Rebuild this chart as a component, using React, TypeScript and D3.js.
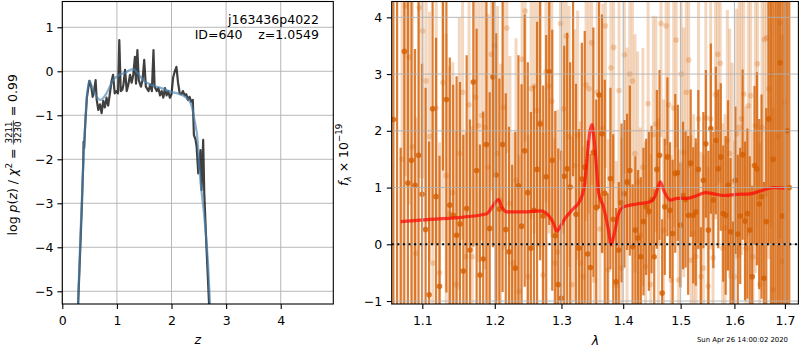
import React, { useEffect, useRef } from "react";
import * as d3 from "d3";

// ---- left panel: redshift probability
const zGrid = [0.28, 0.33, 0.36, 0.385, 0.39, 0.40, 0.42, 0.45, 0.495, 0.53, 0.557, 0.58, 0.61, 0.63, 0.66, 0.69, 0.72, 0.75, 0.78, 0.81, 0.84, 0.87, 0.90, 0.93, 0.96, 0.99, 1.02, 1.044, 1.07, 1.10, 1.12, 1.15, 1.18, 1.21, 1.24, 1.27, 1.30, 1.33, 1.35, 1.375, 1.40, 1.44, 1.47, 1.50, 1.53, 1.58, 1.61, 1.64, 1.67, 1.69, 1.73, 1.76, 1.79, 1.82, 1.85, 1.88, 1.91, 1.94, 1.97, 2.0, 2.03, 2.06, 2.09, 2.12, 2.15, 2.18, 2.21, 2.24, 2.27, 2.30, 2.33, 2.36, 2.39, 2.41, 2.44, 2.46, 2.49, 2.53, 2.55, 2.58, 2.60, 2.64, 2.69, 2.72];
const logPz = [-5.6, -4.0, -3.0, -2.0, -1.6, -1.75, -1.2, -0.6, -0.22, -0.35, -0.58, -0.46, -0.2, -0.65, -0.88, -0.75, -0.95, -0.67, -0.82, -0.6, -0.78, -0.52, -0.24, -0.08, -0.5, -0.45, -0.5, 0.71, -0.45, -0.42, -0.3, 0.03, -0.45, -0.3, -0.08, -0.26, -0.08, 0.33, -0.28, 0.48, -0.2, -0.35, -0.2, 0.26, -0.35, -0.45, -0.3, -0.45, 0.48, -0.35, -0.45, -0.38, -0.55, -0.45, -0.6, -0.38, -0.55, -0.45, -0.6, -0.52, -0.14, 0.0, 0.1, -0.26, -0.5, -0.52, -0.45, -0.55, -0.52, -0.65, -0.58, -0.69, -0.65, -1.45, -1.55, -1.71, -2.32, -1.79, -2.70, -1.56, -2.77, -3.99, -5.35, -6.0];
const zSmooth = [0.28, 0.33, 0.39, 0.45, 0.50, 0.54, 0.63, 0.70, 0.81, 0.93, 1.05, 1.17, 1.26, 1.30, 1.39, 1.48, 1.61, 1.73, 1.85, 1.97, 2.15, 2.27, 2.36, 2.42, 2.48, 2.51, 2.60, 2.67, 2.71, 2.73];
const logPzSmooth = [-5.6, -3.8, -1.94, -0.58, -0.21, -0.35, -0.58, -0.65, -0.5, -0.2, -0.08, -0.02, 0.04, 0.05, -0.06, -0.2, -0.3, -0.35, -0.4, -0.46, -0.52, -0.6, -0.75, -1.1, -1.6, -2.2, -3.3, -4.4, -5.4, -6.0];

const zTicks = [0, 1, 2, 3, 4];
const pzTicks = [-5, -4, -3, -2, -1, 0, 1];

const objName = "j163436p4022";
const objId = 640;
const zBest = "1.0549";
const chi2Num = "3211";
const chi2Den = "3230";
const chi2Red = "0.99";
const stamp = "Sun Apr 26 14:00:02 2020";

// ---- right panel: G141 spectrum (two orientations) + model
const waveStartA = 1.0625;
const waveStepA = 0.00465;
const fluxA = [
  2.2, 4.6, -1.3, 3.4, 1.08, 1.48, 1.04, 1.57, 0.88, 0.26,
  -0.89, 2.39, 0.84, -0.74, 4.5, 2.55, 0.69, 0.51, 0.16, 0.36,
  -0.47, 0.63, -0.10, 2.86, 1.30, -0.54, -0.26, 1.76, 0.28, 2.95,
  1.22, 0.62, 1.76, 0.26, -0.13, -1.3, -0.42, 1.03, 0.32, 1.65,
  0.91, -0.07, 0.60, 1.32, 2.12, 0.50, 1.19, 3.04, 1.48, 0.15,
  -0.71, -0.95, 1.20, 1.33, 1.01, 4.4, 0.53, -0.07, 1.15, 1.36,
  -0.17, -0.41, 1.62, 0.65, 2.63, 1.95, 0.9, -1.2, 1.16, 0.44,
  -0.66, -0.10, 0.73, 0.89, 1.10, 1.30, -0.04, 0.25, 0.11, -0.22,
  0.40, 0.66, 0.58, 0.79, -0.22, 1.32, 1.57, -0.86, 0.66, 1.54,
  0.60, 0.19, 1.25, 1.26, 0.34, 0.86, 0.79, 0.51, 1.43, 0.51,
  0.57, 1.32, -1.3, 1.13, 1.77, 0.25, 2.04, 0.78, 1.83, 1.33,
  1.54, 0.54, 0.51, 1.04, 0.22, -1.2, 1.13, 0.18, 0.50, 1.58,
  0.41, 0.54, 0.25, -0.57, 1.39, 1.33, 0.71, 0.84, -0.6, 0.4,
  2.21, 4.6, 1.5, 5.0, -1.5, 3.2, 0.5, 4.8, 2.0, 1.0,
];
const errA = [
  8, 9, 3, 8, 3.4, 3.0, 2.4, 3.4, 2.3, 2.5,
  2.7, 2.4, 2.8, 2.3, 3.2, 3.4, 2.6, 2.3, 2.8, 2.5,
  2.4, 2.7, 2.3, 2.9, 2.5, 2.3, 2.6, 2.8, 2.4, 3.0,
  2.5, 2.3, 2.6, 2.4, 2.2, 2.7, 2.4, 2.3, 2.5, 2.4,
  2.3, 2.4, 2.2, 2.6, 2.4, 2.3, 2.5, 2.7, 2.3, 2.2,
  2.4, 2.6, 2.3, 2.4, 2.2, 3.2, 2.3, 2.1, 2.4, 2.4,
  2.0, 2.0, 2.2, 1.9, 2.0, 2.1, 2.0, 2.1, 1.6, 1.5,
  1.3, 1.2, 1.4, 1.3, 1.2, 1.5, 1.1, 1.3, 1.2, 1.4,
  1.3, 1.2, 1.4, 1.3, 1.2, 1.4, 1.5, 1.3, 1.2, 1.4,
  1.2, 1.3, 1.4, 1.2, 1.1, 1.3, 1.2, 1.4, 1.3, 1.2,
  1.3, 1.4, 1.6, 1.2, 1.3, 1.4, 1.5, 1.2, 1.3, 1.4,
  1.3, 1.2, 1.4, 1.5, 1.3, 1.6, 1.3, 1.4, 1.2, 1.5,
  1.4, 1.5, 1.3, 1.6, 1.4, 1.7, 1.5, 1.8, 1.7, 2.0,
  2.2, 6, 7, 8, 9, 8, 9, 10, 9, 10,
];
const waveStartB = 1.0735;
const waveStepB = 0.0045;
const fluxB = [
  1.5,
  4.2, 3.30, 1.72, -0.16, 4.17, 3.76, 2.88, 1.90, -0.33, 2.40,
  -0.5, 2.85, 1.21, 0.54, 0.91, -0.71, 1.60, 2.68, -0.22, 2.46,
  -0.22, 2.59, 2.09, 2.27, 2.06, 1.36, 3.35, 3.5, 1.60, 0.78,
  2.41, 3.81, 0.72, -0.33, 1.13, -0.83, 3.26, 4.11, -0.57, 2.74,
  2.79, 2.36, 2.15, -0.54, 3.04, 2.79, 2.52, -0.33, -0.13, 3.89,
  2.39, 3.67, 1.90, -0.71, 1.39, 1.92, -0.33, -0.57, 2.81, 2.74,
  3.55, -0.63, 2.68, 0.27, 2.04, 3.85, -0.45, 3.11, 3.47, -0.73,
  2.71, -0.42, 3.34, 1.07, 3.0, 2.88, 1.60, 1.10, 0.16, 1.36,
  -0.39, 2.48, -0.71, 1.93, 2.12, 0.02, 3.89, 0.25, 3.85, 2.46,
  -0.63, 2.40, 3.60, -0.63, 3.0, 1.62, 2.68, 3.25, -0.28, 0.19,
  -0.22, 2.21, -0.57, -0.42, 2.23, -0.74, 2.21, -0.24, 2.64, 3.35,
  3.19, -0.07, 0.29, 1.83, 1.60, 1.10, -0.57, 1.95, 2.06, 2.21,
  2.65, -0.07, 2.44, 2.62, -0.22, 2.09, 3.18, -0.71, 2.06, 3.61,
  3.64, 2.74, 3.0, -0.8, 4.5, 1.9, 3.9, -0.3, 2.5,
];
const errB = [
  4, 3.0, 2.6, 2.8, 2.4, 3.0, 2.6, 2.5, 2.2, 2.7,
  2.4, 2.3, 2.8, 2.5, 2.6, 2.3, 2.7, 2.4, 2.6, 2.2,
  2.5, 2.3, 2.6, 2.4, 2.2, 2.5, 2.7, 2.4, 2.3, 2.6,
  2.4, 2.5, 2.2, 2.6, 2.3, 2.5, 2.4, 2.7, 2.3, 2.5,
  2.3, 2.6, 2.4, 2.2, 2.5, 2.3, 2.6, 2.4, 2.2, 2.5,
  2.4, 2.2, 2.5, 2.3, 2.6, 2.4, 2.2, 2.5, 2.3, 2.4,
  2.2, 2.5, 2.3, 2.1, 2.4, 2.2, 2.5, 2.3, 2.1, 2.4,
  2.2, 2.0, 2.3, 2.1, 2.4, 2.0, 2.2, 2.1, 2.3, 1.9,
  2.1, 2.2, 2.0, 2.3, 2.1, 1.9, 2.2, 2.0, 2.3, 2.1,
  2.0, 2.2, 2.1, 1.9, 2.3, 2.0, 2.2, 2.1, 1.9, 2.2,
  2.1, 2.0, 2.3, 2.2, 2.0, 2.2, 2.1, 2.3, 2.0, 2.2,
  2.3, 2.1, 2.2, 2.0, 2.3, 2.2, 2.1, 2.4, 2.2, 2.3,
  2.4, 2.2, 2.5, 2.3, 2.4, 2.2, 2.6, 2.4, 2.5, 2.7,
  2.6, 2.8, 3.0, 2.7, 3.2, 3.5, 3.0, 3.8, 4.0, 4.5,
];
const modelWave = [1.0718, 1.1102, 1.1556, 1.1886, 1.198, 1.2053, 1.2101, 1.2174, 1.2421, 1.2672, 1.2799, 1.2876, 1.2928, 1.298, 1.3059, 1.319, 1.3296, 1.336, 1.3403, 1.3446, 1.3484, 1.3521, 1.3566, 1.3591, 1.3673, 1.3755, 1.38, 1.3851, 1.3923, 1.4007, 1.4234, 1.4464, 1.4551, 1.4597, 1.4638, 1.4697, 1.4815, 1.4934, 1.5117, 1.5298, 1.5452, 1.5606, 1.5795, 1.6052, 1.631, 1.6573, 1.6774, 1.701];
const modelFlux = [0.40, 0.44, 0.48, 0.54, 0.69, 0.79, 0.66, 0.57, 0.57, 0.59, 0.51, 0.37, 0.23, 0.31, 0.46, 0.63, 0.78, 1.01, 1.48, 1.95, 2.11, 1.83, 1.25, 0.92, 0.66, 0.25, -0.01, 0.19, 0.54, 0.66, 0.71, 0.75, 0.86, 1.01, 1.10, 0.95, 0.78, 0.81, 0.81, 0.86, 0.91, 0.89, 0.86, 0.88, 0.89, 0.96, 1.0, 0.99];

const waveTicks = [1.1, 1.2, 1.3, 1.4, 1.5, 1.6, 1.7];
const fluxTicks = [-1, 0, 1, 2, 3, 4];

const FONT = "DejaVu Sans, sans-serif";
const G141 = "#d55e00";
const GRID = "#b0b0b0";

const App: React.FC = () => {
  const svgRef = useRef<SVGSVGElement>(null);

  useEffect(() => {
    if (!svgRef.current) return;
    const svg = d3.select(svgRef.current);
    svg.selectAll("*").remove();

    const fs = 12.5;
    const minus = (v: number) => String(v).replace("-", "\u2212");
    const defs = svg.append("defs");

    // ================= left panel =================
    const L = { left: 62.3, right: 333.3, top: 1.5, bottom: 304 };
    const xz = d3.scaleLinear().domain([0, 4.963]).range([L.left, L.right]);
    const yz = d3.scaleLinear().domain([-5.289, 1.586]).range([L.bottom, L.top]);

    defs.append("clipPath").attr("id", "clipL").append("rect")
      .attr("x", L.left).attr("y", L.top)
      .attr("width", L.right - L.left).attr("height", L.bottom - L.top);

    const gl = svg.append("g");
    // grid
    gl.append("g").selectAll("line").data(zTicks).join("line")
      .attr("x1", (d) => xz(d)).attr("x2", (d) => xz(d))
      .attr("y1", L.top).attr("y2", L.bottom)
      .attr("stroke", GRID).attr("stroke-width", 0.9);
    gl.append("g").selectAll("line").data(pzTicks).join("line")
      .attr("y1", (d) => yz(d)).attr("y2", (d) => yz(d))
      .attr("x1", L.left).attr("x2", L.right)
      .attr("stroke", GRID).attr("stroke-width", 0.9);

    const pzLine = d3.line<number>()
      .x((_, i) => xz(zGrid[i]))
      .y((d) => yz(d));
    const smoothLine = d3.line<number>()
      .x((_, i) => xz(zSmooth[i]))
      .y((d) => yz(d))
      .curve(d3.curveMonotoneX);

    const gLines = gl.append("g").attr("clip-path", "url(#clipL)");
    gLines.append("path").datum(logPz)
      .attr("fill", "none").attr("stroke", "#000").attr("stroke-opacity", 0.75)
      .attr("stroke-width", 2.2).attr("stroke-linejoin", "round")
      .attr("d", pzLine);
    gLines.append("path").datum(logPzSmooth)
      .attr("fill", "none").attr("stroke", "steelblue").attr("stroke-opacity", 0.65)
      .attr("stroke-width", 2.2)
      .attr("d", smoothLine);

    // axes
    const axL = gl.append("g").attr("transform", `translate(0,${L.bottom})`)
      .call(d3.axisBottom(xz).tickValues(zTicks).tickSize(4.9).tickSizeOuter(0).tickPadding(7)
        .tickFormat((d) => minus(+d)));
    const ayL = gl.append("g").attr("transform", `translate(${L.left},0)`)
      .call(d3.axisLeft(yz).tickValues(pzTicks).tickSize(4.9).tickSizeOuter(0).tickPadding(4)
        .tickFormat((d) => minus(+d)));
    [axL, ayL].forEach((a) => {
      a.select(".domain").remove();
      a.attr("font-family", FONT).attr("font-size", fs);
      a.selectAll("line").attr("stroke", "#000").attr("stroke-width", 1.1);
      a.selectAll("text").attr("fill", "#000");
    });
    gl.append("rect")
      .attr("x", L.left).attr("y", L.top)
      .attr("width", L.right - L.left).attr("height", L.bottom - L.top)
      .attr("fill", "none").attr("stroke", "#000").attr("stroke-width", 1.1);

    // annotation
    gl.append("text").attr("x", 319).attr("y", 24)
      .attr("text-anchor", "end").attr("font-family", FONT).attr("font-size", fs)
      .text(objName);
    gl.append("text").attr("x", 319).attr("y", 39)
      .attr("text-anchor", "end").attr("font-family", FONT).attr("font-size", fs)
      .style("white-space", "pre")
      .text(`ID=${objId}    z=${zBest}`);

    // x label
    gl.append("text").attr("x", (L.left + L.right) / 2).attr("y", 344)
      .attr("text-anchor", "middle").attr("font-family", FONT).attr("font-size", fs)
      .attr("font-style", "italic").text("z");

    // y label with fraction
    const yl = svg.append("g")
      .attr("transform", `translate(17,${(L.top + L.bottom) / 2 + 2}) rotate(-90)`)
      .attr("font-family", FONT).attr("font-size", fs).attr("fill", "#000");
    const pre = yl.append("text").style("white-space", "pre");
    pre.append("tspan").text("log ");
    pre.append("tspan").attr("font-style", "italic").text("p");
    pre.append("tspan").text("(");
    pre.append("tspan").attr("font-style", "italic").text("z");
    pre.append("tspan").text(") / ");
    pre.append("tspan").attr("font-style", "italic").text("\u03c7");
    pre.append("tspan").attr("font-size", fs * 0.7).attr("dy", -fs * 0.4).text("2");
    pre.append("tspan").attr("dy", fs * 0.4).text(" = ");
    const preW = (pre.node() as SVGTextElement).getComputedTextLength();
    const fracFs = fs * 0.7;
    const num = yl.append("text").attr("font-size", fracFs).attr("text-anchor", "middle").text(chi2Num);
    const den = yl.append("text").attr("font-size", fracFs).attr("text-anchor", "middle").text(chi2Den);
    const fracW = Math.max(
      (num.node() as SVGTextElement).getComputedTextLength(),
      (den.node() as SVGTextElement).getComputedTextLength()
    ) + 2;
    const post = yl.append("text").style("white-space", "pre").text(` = ${chi2Red}`);
    const postW = (post.node() as SVGTextElement).getComputedTextLength();
    const x0 = -(preW + fracW + postW) / 2;
    pre.attr("x", x0);
    num.attr("x", x0 + preW + fracW / 2).attr("y", -5.2);
    den.attr("x", x0 + preW + fracW / 2).attr("y", 4.2);
    yl.append("line")
      .attr("x1", x0 + preW).attr("x2", x0 + preW + fracW)
      .attr("y1", -3.6).attr("y2", -3.6)
      .attr("stroke", "#000").attr("stroke-width", 0.7);
    post.attr("x", x0 + preW + fracW);

    // ================= right panel =================
    const R = { left: 391.7, right: 799, top: 1.5, bottom: 304 };
    const xw = d3.scaleLog().domain([1.0603, 1.729]).range([R.left, R.right]);
    const yf = d3.scaleLinear().domain([-1.052, 4.279]).range([R.bottom, R.top]);

    defs.append("clipPath").attr("id", "clipR").append("rect")
      .attr("x", R.left).attr("y", R.top)
      .attr("width", R.right - R.left).attr("height", R.bottom - R.top);

    const gr = svg.append("g");
    const gData = gr.append("g").attr("clip-path", "url(#clipR)");

    const setB = fluxB.map((f, i) => ({ w: waveStartB + i * waveStepB, f, e: errB[i] }));
    const setA = fluxA.map((f, i) => ({ w: waveStartA + i * waveStepA, f, e: errA[i] }));

    const drawSet = (
      data: { w: number; f: number; e: number }[],
      opacity: number,
      width: number
    ) => {
      const g = gData.append("g");
      g.selectAll("line").data(data).join("line")
        .attr("x1", (d) => xw(d.w)).attr("x2", (d) => xw(d.w))
        .attr("y1", (d) => yf(d.f - d.e)).attr("y2", (d) => yf(d.f + d.e))
        .attr("stroke", G141).attr("stroke-opacity", opacity).attr("stroke-width", width);
      g.selectAll("circle").data(data).join("circle")
        .attr("cx", (d) => xw(d.w)).attr("cy", (d) => yf(d.f))
        .attr("r", 2.8)
        .attr("fill", G141).attr("fill-opacity", opacity);
    };
    drawSet(setB, 0.25, 3);
    drawSet(setA, 0.8, 2.2);

    // grid over the error bars
    gr.append("g").selectAll("line").data(waveTicks).join("line")
      .attr("x1", (d) => xw(d)).attr("x2", (d) => xw(d))
      .attr("y1", R.top).attr("y2", R.bottom)
      .attr("stroke", GRID).attr("stroke-width", 0.9);
    gr.append("g").selectAll("line").data(fluxTicks).join("line")
      .attr("y1", (d) => yf(d)).attr("y2", (d) => yf(d))
      .attr("x1", R.left).attr("x2", R.right)
      .attr("stroke", GRID).attr("stroke-width", 0.9);

    const modelLine = d3.line<number>()
      .x((_, i) => xw(modelWave[i]))
      .y((d) => yf(d))
      .curve(d3.curveMonotoneX);
    gData.append("path").datum(modelFlux)
      .attr("fill", "none").attr("stroke", "red").attr("stroke-opacity", 0.7)
      .attr("stroke-width", 3.2).attr("stroke-linejoin", "round")
      .attr("d", modelLine);

    gr.append("line")
      .attr("x1", R.left).attr("x2", R.right)
      .attr("y1", yf(0)).attr("y2", yf(0))
      .attr("stroke", "#000").attr("stroke-width", 2)
      .attr("stroke-dasharray", "2,3.6");

    const axR = gr.append("g").attr("transform", `translate(0,${R.bottom})`)
      .call(d3.axisBottom(xw).tickValues(waveTicks).tickSize(4.9).tickSizeOuter(0).tickPadding(7)
        .tickFormat((d) => d3.format(".1f")(+d)));
    const ayR = gr.append("g").attr("transform", `translate(${R.left},0)`)
      .call(d3.axisLeft(yf).tickValues(fluxTicks).tickSize(4.9).tickSizeOuter(0).tickPadding(4.5)
        .tickFormat((d) => minus(+d)));
    [axR, ayR].forEach((a) => {
      a.select(".domain").remove();
      a.attr("font-family", FONT).attr("font-size", fs);
      a.selectAll("line").attr("stroke", "#000").attr("stroke-width", 1.1);
      a.selectAll("text").attr("fill", "#000");
    });
    gr.append("rect")
      .attr("x", R.left).attr("y", R.top)
      .attr("width", R.right - R.left - 0.6).attr("height", R.bottom - R.top)
      .attr("fill", "none").attr("stroke", "#000").attr("stroke-width", 1.1);

    gr.append("text").attr("x", (R.left + R.right) / 2).attr("y", 345)
      .attr("text-anchor", "middle").attr("font-family", FONT).attr("font-size", fs)
      .attr("font-style", "italic").text("\u03bb");

    const yr = gr.append("text")
      .attr("transform", `translate(348,${(R.top + R.bottom) / 2 + 2}) rotate(-90)`)
      .attr("text-anchor", "middle").attr("font-family", FONT).attr("font-size", fs)
      .style("white-space", "pre");
    yr.append("tspan").attr("font-style", "italic").text("f");
    yr.append("tspan").attr("font-style", "italic").attr("font-size", fs * 0.7)
      .attr("dy", fs * 0.22).text("\u03bb");
    yr.append("tspan").attr("dy", -fs * 0.22).text(" \u00d7 10");
    yr.append("tspan").attr("font-size", fs * 0.7).attr("dy", -fs * 0.45).text("\u221219");

    // timestamp
    svg.append("text").attr("x", 788).attr("y", 342)
      .attr("text-anchor", "end").attr("font-family", FONT).attr("font-size", 6.9)
      .text(stamp);
  }, []);

  return (
    <div style={{ position: "absolute", left: 0, top: 0, background: "#fff" }}>
      <svg ref={svgRef} width={800} height={350} viewBox="0 0 800 350" style={{ display: "block" }} />
    </div>
  );
};

export default App;
